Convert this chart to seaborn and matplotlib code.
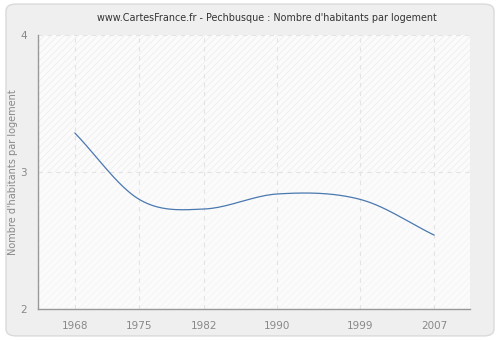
import numpy as np
import pandas as pd
import matplotlib
matplotlib.use("Agg")
import matplotlib.pyplot as plt
import seaborn as sns
from matplotlib.patches import FancyBboxPatch, Rectangle

years = [1968, 1975, 1982, 1990, 1999, 2007]
values = [3.285, 2.80, 2.73, 2.84, 2.80, 2.54]
tick_labels = ["1968", "1975", "1982", "1990", "1999", "2007"]
title = "www.CartesFrance.fr - Pechbusque : Nombre d'habitants par logement"
ylabel = "Nombre d'habitants par logement"

def smooth(x, y, n=40):
    # Catmull-Rom style cubic Hermite rendering of the line through the data
    x = np.asarray(x, float); y = np.asarray(y, float)
    m = np.zeros_like(y)
    for i in range(len(x)):
        if i == 0:
            m[i] = (y[1] - y[0]) / (x[1] - x[0])
        elif i == len(x) - 1:
            m[i] = (y[-1] - y[-2]) / (x[-1] - x[-2])
        else:
            m[i] = (y[i + 1] - y[i - 1]) / (x[i + 1] - x[i - 1])
    xs, ys = [], []
    for i in range(len(x) - 1):
        h = x[i + 1] - x[i]
        t = np.linspace(0, 1, n, endpoint=(i == len(x) - 2))
        h00 = 2*t**3 - 3*t**2 + 1; h10 = t**3 - 2*t**2 + t
        h01 = -2*t**3 + 3*t**2; h11 = t**3 - t**2
        xs.append(x[i] + t*h)
        ys.append(h00*y[i] + h10*h*m[i] + h01*y[i+1] + h11*h*m[i+1])
    return np.concatenate(xs), np.concatenate(ys)

sns.set_style("white")
plt.rcParams['font.family'] = ['DejaVu Sans']
plt.rcParams['hatch.linewidth'] = 0.5

fig = plt.figure(figsize=(5, 3.4), dpi=100)
fig.patch.set_facecolor("white")
bg = FancyBboxPatch((0.012, 0.012), 0.976, 0.976, boxstyle="round,pad=0,rounding_size=0.02",
                    transform=fig.transFigure, facecolor="#efefef", edgecolor="#dadada",
                    linewidth=1, zorder=-10)
fig.patches.append(bg)

ax = fig.add_axes([0.076, 0.091, 0.864, 0.806])
ax.set_facecolor("#fbfbfb")
ax.add_patch(Rectangle((0, 0.5), 1, 0.5, transform=ax.transAxes, facecolor="none",
                       edgecolor="#ececec", hatch="/////", linewidth=0, zorder=0))
ax.add_patch(Rectangle((0, 0), 1, 0.5, transform=ax.transAxes, facecolor="none",
                       edgecolor="#f3f3f3", hatch="/////", linewidth=0, zorder=0))

sx, sy = smooth(years, values)
df = pd.DataFrame({"year": sx, "val": sy})
sns.lineplot(data=df, x="year", y="val", ax=ax, color="#4a78b0", linewidth=0.9, sort=False, zorder=3)

ax.set_xlim(1964.0, 2010.9)
ax.set_ylim(2, 4)
ax.set_xticks(years)
ax.set_xticklabels(tick_labels)
ax.set_yticks([2, 3, 4])
ax.set_yticklabels(["2", "3", "4"])
ax.grid(True, color="#e4e4e4", linestyle=(0, (4, 4)), linewidth=0.8)
ax.set_axisbelow(True)

for s in ["top", "right"]:
    ax.spines[s].set_visible(False)
for s in ["left", "bottom"]:
    ax.spines[s].set_color("#999999")
    ax.spines[s].set_linewidth(1)

ax.tick_params(axis="both", colors="#999999", labelcolor="#888888", labelsize=7.5,
               length=5, width=1, direction="out")
ax.tick_params(axis="y", pad=3)
ax.set_xlabel("")
ax.set_ylabel(ylabel, color="#888888", fontsize=7)
ax.yaxis.set_label_coords(-0.046, 0.5)
fig.text(0.534, 0.948, title, ha="center", va="center", fontsize=6.9, color="#333333")

fig.savefig("out.png", dpi=100, facecolor=fig.get_facecolor())
